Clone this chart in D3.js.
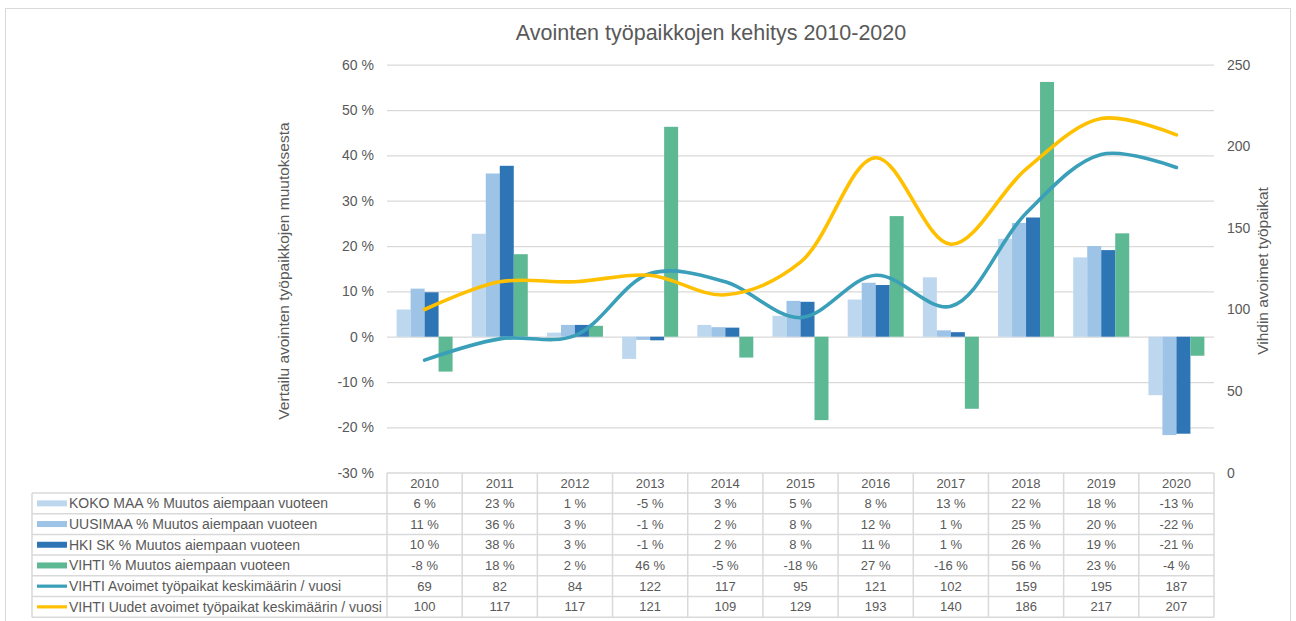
<!DOCTYPE html>
<html>
<head>
<meta charset="utf-8">
<script src="https://cdn.jsdelivr.net/npm/d3@7"></script>
<style>
  html, body { margin: 0; padding: 0; background: #fff; }
  svg { display: block; font-family: "Liberation Sans", Arial, sans-serif; }
</style>
</head>
<body>
<svg id="chart" width="1296" height="621"></svg>
<script>
// ---- data ----
const years = ["2010","2011","2012","2013","2014","2015","2016","2017","2018","2019","2020"];
const kokoMaa = [6.0, 22.7, 0.9, -4.9, 2.6, 4.6, 8.2, 13.1, 21.6, 17.5, -12.9];
const uusimaa = [10.6, 36.0, 2.6, -0.7, 2.1, 7.9, 11.9, 1.4, 25.1, 20.0, -21.7];
const hkiSk   = [9.8, 37.7, 2.6, -0.8, 2.0, 7.7, 11.4, 1.0, 26.3, 19.1, -21.4];
const vihtiPct = [-7.7, 18.2, 2.4, 46.3, -4.6, -18.4, 26.6, -15.9, 56.2, 22.8, -4.2];
const vihtiAvoimet = [69, 82, 84, 122, 117, 95, 121, 102, 159, 195, 187];
const vihtiUudet   = [100, 117, 117, 121, 109, 129, 193, 140, 186, 217, 207];
const leftTicks = [60, 50, 40, 30, 20, 10, 0, -10, -20, -30];
const rightTicks = [0, 50, 100, 150, 200, 250];

const barSeries = [
  { name: "KOKO MAA % Muutos aiempaan vuoteen", values: kokoMaa, color: "#BDD7EE" },
  { name: "UUSIMAA % Muutos aiempaan vuoteen", values: uusimaa, color: "#9DC3E6" },
  { name: "HKI SK % Muutos aiempaan vuoteen", values: hkiSk, color: "#2E75B6" },
  { name: "VIHTI % Muutos aiempaan vuoteen", values: vihtiPct, color: "#5DB894" }
];
const lineSeries = [
  { name: "VIHTI Avoimet työpaikat keskimäärin / vuosi", values: vihtiAvoimet, color: "#3A9FB9" },
  { name: "VIHTI Uudet avoimet työpaikat keskimäärin / vuosi", values: vihtiUudet, color: "#FFC000" }
];

// ---- layout ----
const svg = d3.select("#chart");
const plotL = 387, plotR = 1214, plotT = 64.7, plotB = 472.7;
const gridColor = "#D9D9D9";
const textColor = "#595959";

// outer chart border
svg.append("rect").attr("x", 5.5).attr("y", 8.5).attr("width", 1285).attr("height", 640)
  .attr("fill", "#fff").attr("stroke", "#D9D9D9").attr("stroke-width", 1);

const x = d3.scaleBand().domain(years).range([plotL, plotR]).paddingInner(0).paddingOuter(0);
const xSub = d3.scaleBand().domain(d3.range(barSeries.length)).range([0, x.bandwidth()])
  .paddingInner(0).paddingOuter(0.686);
const yL = d3.scaleLinear().domain([-30, 60]).range([plotB, plotT]);
const yR = d3.scaleLinear().domain([0, 250]).range([plotB, plotT]);

// title
svg.append("text").attr("x", 711).attr("y", 40).attr("text-anchor", "middle")
  .attr("font-size", 21.5).attr("fill", textColor).text("Avointen työpaikkojen kehitys 2010-2020");

// gridlines
svg.append("g").selectAll("line").data(leftTicks.filter(t => t > -30)).join("line")
  .attr("x1", plotL).attr("x2", plotR)
  .attr("y1", d => yL(d) + 0.5).attr("y2", d => yL(d) + 0.5)
  .attr("stroke", gridColor).attr("stroke-width", 1.2);

// left axis
const leftAxis = d3.axisLeft(yL).tickValues(leftTicks).tickSize(0).tickPadding(0)
  .tickFormat(d => d + " %");
const gL = svg.append("g").attr("transform", `translate(${374},0)`).call(leftAxis);
gL.select(".domain").remove();
gL.selectAll("text").attr("font-size", 14).attr("fill", textColor)
  .attr("font-family", "Liberation Sans, Arial, sans-serif");

// right axis
const rightAxis = d3.axisRight(yR).tickValues(rightTicks).tickSize(0).tickPadding(0);
const gR = svg.append("g").attr("transform", `translate(${1227},0)`).call(rightAxis);
gR.select(".domain").remove();
gR.selectAll("text").attr("font-size", 14).attr("fill", textColor)
  .attr("font-family", "Liberation Sans, Arial, sans-serif");

// axis titles
svg.append("text").attr("transform", "translate(289,271) rotate(-90)").attr("text-anchor", "middle")
  .attr("font-size", 15.5).attr("fill", textColor).text("Vertailu avointen työpaikkojen muutoksesta");
svg.append("text").attr("transform", "translate(1268,271) rotate(-90)").attr("text-anchor", "middle")
  .attr("font-size", 15.5).attr("fill", textColor).text("Vihdin avoimet työpaikat");

// bars
const barG = svg.append("g");
barSeries.forEach((s, si) => {
  barG.append("g").selectAll("rect").data(s.values).join("rect")
    .attr("x", (d, i) => x(years[i]) + xSub(si))
    .attr("width", xSub.bandwidth())
    .attr("y", d => yL(Math.max(0, d)))
    .attr("height", d => Math.abs(yL(d) - yL(0)))
    .attr("fill", s.color);
});

// lines
const line = d3.line().curve(d3.curveCatmullRom.alpha(0.5))
  .x((d, i) => x(years[i]) + x.bandwidth() / 2)
  .y(d => yR(d));
lineSeries.forEach(s => {
  svg.append("path").datum(s.values).attr("d", line)
    .attr("fill", "none").attr("stroke", s.color).attr("stroke-width", 3.6)
    .attr("stroke-linecap", "round").attr("stroke-linejoin", "round");
});

// data table
const tableG = svg.append("g");
const headerT = 473, headerB = 493, rowH = 20.7;
const legendL = 32;
const allSeries = barSeries.concat(lineSeries);
const rowTop = i => headerB + i * rowH;
const tableB = rowTop(allSeries.length);
const fmtPct = v => Math.round(v) + " %";

// horizontal lines
tableG.append("line").attr("x1", plotL).attr("x2", plotR).attr("y1", headerT).attr("y2", headerT)
  .attr("stroke", gridColor).attr("stroke-width", 1.5);
d3.range(allSeries.length + 1).forEach(i => {
  tableG.append("line").attr("x1", legendL).attr("x2", plotR)
    .attr("y1", rowTop(i)).attr("y2", rowTop(i))
    .attr("stroke", gridColor).attr("stroke-width", 1.5);
});
// vertical lines
tableG.append("line").attr("x1", legendL).attr("x2", legendL).attr("y1", headerB).attr("y2", tableB)
  .attr("stroke", gridColor).attr("stroke-width", 1.5);
years.concat(["end"]).forEach((yv, i) => {
  const xx = plotL + i * x.step();
  tableG.append("line").attr("x1", xx).attr("x2", xx).attr("y1", headerT).attr("y2", tableB)
    .attr("stroke", gridColor).attr("stroke-width", 1.5);
});

// header
tableG.selectAll("text.hdr").data(years).join("text").attr("class", "hdr")
  .attr("x", d => x(d) + x.bandwidth() / 2).attr("y", (headerT + headerB) / 2 + 4.6)
  .attr("text-anchor", "middle").attr("font-size", 13).attr("fill", textColor).text(d => d);

// rows
allSeries.forEach((s, si) => {
  const cy = rowTop(si) + rowH / 2;
  const isBar = si < barSeries.length;
  tableG.append("rect").attr("x", 37).attr("y", cy - (isBar ? 3 : 1.6))
    .attr("width", 30).attr("height", isBar ? 6 : 3.2).attr("fill", s.color);
  tableG.append("text").attr("x", 69).attr("y", cy + 4.8).attr("font-size", 14)
    .attr("fill", textColor).text(s.name);
  tableG.selectAll(null).data(s.values).join("text")
    .attr("x", (d, i) => x(years[i]) + x.bandwidth() / 2).attr("y", cy + 4.6)
    .attr("text-anchor", "middle").attr("font-size", 13).attr("fill", textColor)
    .text(d => isBar ? fmtPct(d) : d);
});
</script>
</body>
</html>
